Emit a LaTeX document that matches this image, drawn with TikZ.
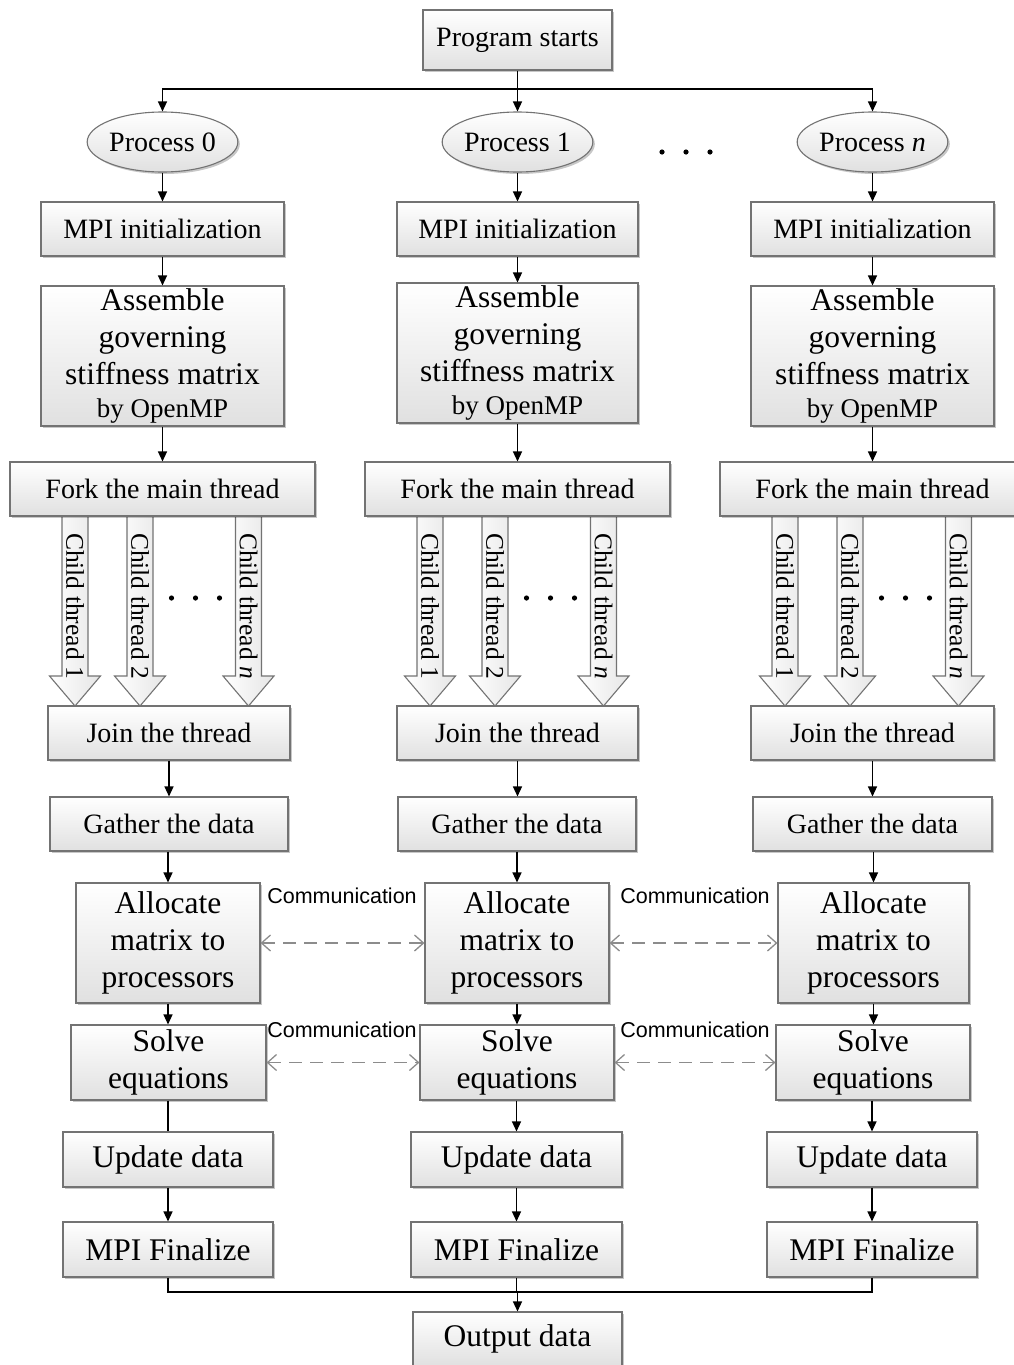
\documentclass[tikz,border=0pt]{standalone}
\usepackage{fontspec}
\setmainfont{Liberation Serif}
\newfontfamily\commfont{Liberation Sans}
\usetikzlibrary{arrows.meta,shapes.geometric,shadows}

\tikzset{
  boxbase/.style={draw=black!55, line width=1.1pt, top color=white, bottom color=black!12,
    drop shadow={shadow xshift=2pt, shadow yshift=-2pt, opacity=0.22, fill=black},
    inner sep=0pt, align=center},
  box/.style={boxbase, rectangle, font=\fontsize{28}{34}\selectfont},
  bigbox/.style={boxbase, rectangle, font=\fontsize{31.5}{37}\selectfont},
  procnode/.style={boxbase, ellipse, minimum width=141pt, minimum height=60pt,
    font=\fontsize{28}{34}\selectfont},
  flow/.style={line width=1.3pt, black},
  arr/.style={flow, -{Triangle[length=10pt,width=9pt]}},
  barb/.tip={Straight Barb[length=9pt,width=16pt,line width=1.3pt]},
  comm/.style={line width=1.3pt, black!45, dash pattern=on 13pt off 8pt, barb-barb},
  commlabel/.style={font=\commfont\fontsize{21.5}{24}\selectfont, inner sep=0pt},
  thr/.style={draw=black!55, line width=1.1pt, left color=white, right color=black!10},
  thrtext/.style={rotate=-90, inner sep=0pt, font=\fontsize{25.5}{28}\selectfont},
  dotmark/.style={fill=black}
}

\begin{document}
\begin{tikzpicture}[x=1pt, y=-1pt]
\useasboundingbox (0,0) rectangle (1014,1365);

% ---------- start and processes ----------
\node[box, minimum width=189pt, minimum height=60pt] (start) at (517.5,40) {Program starts};
\node[procnode] (p0) at (162.5,142) {Process 0};
\node[procnode] (p1) at (517.5,142) {Process 1};
\node[procnode] (p2) at (872.5,142) {Process \textit{n}};
\foreach \dx in {662,686,710} \fill[dotmark] (\dx,152) circle (2.6pt);

\coordinate (hub) at (517.5,89);
\draw[flow] (start.south) -- (hub);
\draw[arr] (hub) -- (p1.north);
\draw[arr] (hub) -| (p0.north);
\draw[arr] (hub) -| (p2.north);

% ---------- MPI initialization ----------
\node[box, minimum width=243pt, minimum height=54pt] (m0) at (162.5,229) {MPI initialization};
\node[box, minimum width=241pt, minimum height=54pt] (m1) at (517.5,229) {MPI initialization};
\node[box, minimum width=243pt, minimum height=54pt] (m2) at (872.5,229) {MPI initialization};

% ---------- assembling ----------
\newcommand\asmtext{Assemble\\governing\\stiffness matrix\\[-4pt]{\fontsize{27}{30}\selectfont by OpenMP}}
\node[bigbox, minimum width=243pt, minimum height=140pt] (a0) at (162.5,356) {\asmtext};
\node[bigbox, minimum width=241pt, minimum height=140pt] (a1) at (517.5,353) {\asmtext};
\node[bigbox, minimum width=243pt, minimum height=140pt] (a2) at (872.5,356) {\asmtext};

% ---------- child threads ----------
\foreach \c/\k in {162.5/0, 517.5/1, 872.5/2} {
  \foreach \off/\lab/\t in {-87.5/1/a, -22.5/2/b, 86/\textit{n}/c} {
    \path[thr] (\c+\off-13,516) -- (\c+\off+13,516) -- (\c+\off+13,676)
      -- (\c+\off+25.5,676) -- (\c+\off,706) -- (\c+\off-25.5,676)
      -- (\c+\off-13,676) -- cycle;
    \node[thrtext] (ct\k\t) at (\c+\off,606) {Child thread \lab};
  }
  \foreach \dd in {-24,0,24} \fill[dotmark] (\c+33+\dd,598) circle (2.6pt);
}

% ---------- fork ----------
\node[box, minimum width=305pt, minimum height=54pt] (f0) at (162.5,489) {Fork the main thread};
\node[box, minimum width=305pt, minimum height=54pt] (f1) at (517.5,489) {Fork the main thread};
\node[box, minimum width=305pt, minimum height=54pt] (f2) at (872.5,489) {Fork the main thread};

% ---------- join and gather ----------
\node[box, minimum width=242pt, minimum height=54pt] (j0) at (169,733) {Join the thread};
\node[box, minimum width=241pt, minimum height=54pt] (j1) at (517.5,733) {Join the thread};
\node[box, minimum width=243pt, minimum height=54pt] (j2) at (872.5,733) {Join the thread};

\node[box, minimum width=238pt, minimum height=54pt] (g0) at (169,824) {Gather the data};
\node[box, minimum width=238pt, minimum height=54pt] (g1) at (517,824) {Gather the data};
\node[box, minimum width=239pt, minimum height=54pt] (g2) at (872.5,824) {Gather the data};

% ---------- allocation and solution ----------
\node[bigbox, minimum width=184pt, minimum height=120pt] (al0) at (168,943) {Allocate\\matrix to\\processors};
\node[bigbox, minimum width=184pt, minimum height=120pt] (al1) at (517,943) {Allocate\\matrix to\\processors};
\node[bigbox, minimum width=191pt, minimum height=120pt] (al2) at (873.5,943) {Allocate\\matrix to\\processors};

\node[bigbox, minimum width=195pt, minimum height=75pt] (s0) at (168.5,1062.5) {Solve\\equations};
\node[bigbox, minimum width=194pt, minimum height=75pt] (s1) at (517,1062.5) {Solve\\equations};
\node[bigbox, minimum width=194pt, minimum height=75pt] (s2) at (873,1062.5) {Solve\\equations};

% ---------- update and finalize ----------
\node[bigbox, minimum width=210pt, minimum height=55pt] (u0) at (168,1159.5) {Update data};
\node[bigbox, minimum width=211pt, minimum height=55pt] (u1) at (516.5,1159.5) {Update data};
\node[bigbox, minimum width=210pt, minimum height=55pt] (u2) at (872,1159.5) {Update data};

\node[bigbox, minimum width=210pt, minimum height=55pt] (mf0) at (168,1249.5) {MPI Finalize};
\node[bigbox, minimum width=211pt, minimum height=55pt] (mf1) at (516.5,1249.5) {MPI Finalize};
\node[bigbox, minimum width=210pt, minimum height=55pt] (mf2) at (872,1249.5) {MPI Finalize};

\node[bigbox, minimum width=209pt, minimum height=54pt] (out) at (517.5,1339) {Output data};

% ---------- vertical flow in each column ----------
\foreach \k in {0,1,2} {
  \draw[arr] (p\k.south) -- (p\k.south |- m\k.north);
  \draw[arr] (m\k.south) -- (m\k.south |- a\k.north);
  \draw[arr] (a\k.south) -- (a\k.south |- f\k.north);
  \draw[arr] (j\k.south) -- (j\k.south |- g\k.north);
  \draw[arr] (al\k.south) -- (al\k.south |- s\k.north);
  \draw[arr] (u\k.south) -- (u\k.south |- mf\k.north);
}
\draw[arr] (g0.south -| al0.north) -- (al0.north);
\draw[arr] (g1.south -| al1.north) -- (al1.north);
\draw[arr] (g2.south -| al2.north) -- (al2.north);
\draw[flow] (s0.south -| u0.north) -- (u0.north);
\draw[arr] (s1.south -| u1.north) -- (u1.north);
\draw[arr] (s2.south -| u2.north) -- (u2.north);

% ---------- collecting results ----------
\coordinate (low) at (517.5,1292);
\draw[flow] (mf0.south) |- (low);
\draw[flow] (mf2.south) |- (low);
\draw[flow] (mf1.south) -- (mf1.south |- low);
\draw[arr] (low) -- (out.north);

% ---------- communication between processes ----------
\draw[comm] (al0) -- (al1);
\draw[comm] (al1) -- (al2);
\draw[comm] (s0) -- (s1);
\draw[comm] (s1) -- (s2);
\node[commlabel] (c1) at (342,896) {Communication};
\node[commlabel] (c2) at (695,896) {Communication};
\node[commlabel] (c3) at (342,1030) {Communication};
\node[commlabel] (c4) at (695,1030) {Communication};
\end{tikzpicture}
\end{document}
